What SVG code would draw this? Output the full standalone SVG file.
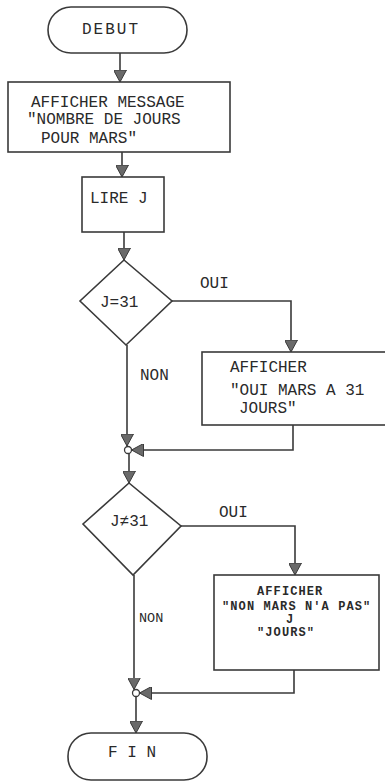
<svg xmlns="http://www.w3.org/2000/svg" width="385" height="781" viewBox="0 0 385 781">
<style>
.shape{fill:none;stroke:#3a3a3a;stroke-width:1.6}
.conn{fill:none;stroke:#3a3a3a;stroke-width:1.6}
.t{font-family:"Liberation Mono","DejaVu Sans Mono",monospace;font-size:16px;fill:#2a2a2a}
.s{font-family:"Liberation Mono","DejaVu Sans Mono",monospace;font-size:12px;font-weight:bold;fill:#2a2a2a;letter-spacing:1.1px}
.j{fill:#fff;stroke:#3a3a3a;stroke-width:1.3}
</style>
<defs>
<marker id="ah" viewBox="0 0 13 13" refX="12" refY="6.5" markerWidth="13" markerHeight="13" markerUnits="userSpaceOnUse" orient="auto">
<path d="M0,0 L12,6.5 L0,13 Z" fill="#6a6a6a" stroke="#3a3a3a" stroke-width="1"/>
</marker>
</defs>
<g id="debut">
<rect class="shape" x="48" y="7" width="139" height="46" rx="23"/>
<text class="t" x="82" y="34" style="letter-spacing:2px">DEBUT</text>
</g>
<g id="afficher1">
<rect class="shape" x="8" y="82" width="222" height="70"/>
<text class="t" x="31" y="107">AFFICHER MESSAGE</text>
<text class="t" x="27" y="124">"NOMBRE DE JOURS</text>
<text class="t" x="41" y="143">POUR MARS"</text>
</g>
<g id="lire">
<rect class="shape" x="82" y="177" width="82" height="55"/>
<text class="t" x="90" y="203">LIRE J</text>
</g>
<g id="test1">
<polygon class="shape" points="124,260 172,301 126,345 80,301"/>
<text class="t" x="100" y="307">J=31</text>
</g>
<g id="afficher2">
<rect class="shape" x="202" y="352" width="186" height="73"/>
<text class="t" x="230" y="372">AFFICHER</text>
<text class="t" x="230" y="395">"OUI MARS A 31</text>
<text class="t" x="239" y="413">JOURS"</text>
</g>
<g id="test2">
<polygon class="shape" points="129,483 181,526 133,575 83,524"/>
<text class="t" x="110" y="526">J≠31</text>
</g>
<g id="afficher3">
<rect class="shape" x="214" y="575" width="165" height="95"/>
<text class="s" x="257" y="595">AFFICHER</text>
<text class="s" x="222" y="610">"NON MARS N'A PAS"</text>
<text class="s" x="286" y="623">J</text>
<text class="s" x="257" y="636">"JOURS"</text>
</g>
<g id="fin">
<rect class="shape" x="68" y="733" width="139" height="47" rx="23"/>
<text class="t" x="108" y="757">F I N</text>
</g>
<g id="connectors">
<path class="conn" d="M120,53 V82" marker-end="url(#ah)"/>
<path class="conn" d="M122,152 V177" marker-end="url(#ah)"/>
<path class="conn" d="M124,232 V260" marker-end="url(#ah)"/>
<path class="conn" d="M172,301 H291 V352" marker-end="url(#ah)"/>
<path class="conn" d="M127,345 V446" marker-end="url(#ah)"/>
<path class="conn" d="M293,425 V450 H131.5" marker-end="url(#ah)"/>
<circle class="j" cx="128" cy="450" r="3.5"/>
<path class="conn" d="M129,453.5 V483" marker-end="url(#ah)"/>
<path class="conn" d="M181,526 H295 V575" marker-end="url(#ah)"/>
<path class="conn" d="M134,575 V689.5" marker-end="url(#ah)"/>
<path class="conn" d="M294,670 V693 H139.5" marker-end="url(#ah)"/>
<circle class="j" cx="136" cy="693" r="3.5"/>
<path class="conn" d="M136,696.5 V733" marker-end="url(#ah)"/>
<text class="t" x="200" y="288">OUI</text>
<text class="t" x="140" y="380">NON</text>
<text class="t" x="219" y="517">OUI</text>
<text class="t" x="139" y="622" style="font-size:13.5px">NON</text>
</g>
</svg>
